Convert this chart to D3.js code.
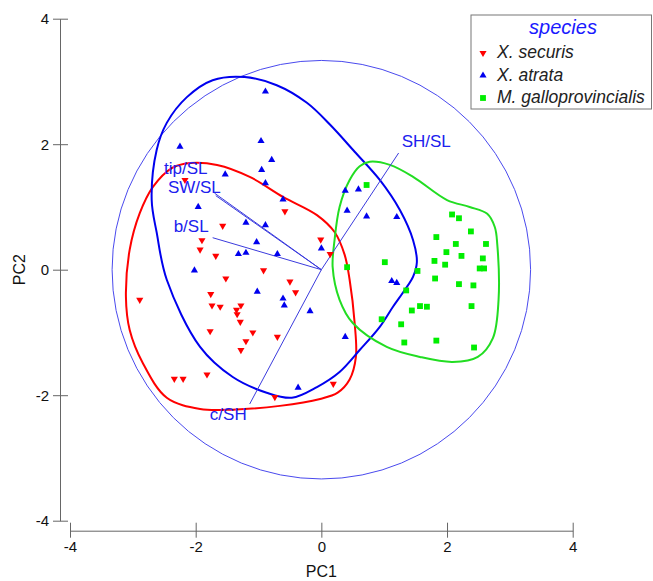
<!DOCTYPE html>
<html>
<head>
<meta charset="utf-8">
<script src="https://cdn.jsdelivr.net/npm/d3@7"></script>
<style>
  body { margin: 0; background: #fff; }
  text { font-family: "Liberation Sans", Arial, sans-serif; }
</style>
</head>
<body>
<div id="chart"></div>
<script>
// scores PC1/PC2 per species
const securis = [
  [-2.17, 1.43], [-0.58, 0.93], [-1.57, 0.70], [-1.90, 0.47], [-1.93, 0.32],
  [-1.68, 0.22], [-0.01, 0.48], [0.14, 0.25], [-0.92, -0.01], [-1.52, -0.14],
  [-0.50, -0.19], [-0.41, -0.36], [-1.76, -0.39], [-2.89, -0.48], [-1.74, -0.57],
  [-1.61, -0.59], [-1.28, -0.57], [-1.35, -0.64], [-1.34, -0.71], [-1.29, -0.83],
  [-1.77, -0.98], [-1.09, -1.00], [-0.70, -1.07], [-1.20, -1.14], [-1.28, -1.28],
  [-2.34, -1.74], [-2.20, -1.74], [-1.82, -1.67], [0.19, -1.82], [-0.74, -2.03]
];
const atrata = [
  [-0.89, 2.84], [-2.25, 1.96], [-0.96, 2.05], [-0.79, 1.75], [-0.95, 1.59],
  [-1.53, 1.52], [-0.89, 1.38], [-0.61, 1.12], [-1.96, 1.00], [-1.20, 0.75],
  [-0.89, 0.71], [-1.03, 0.44], [0.00, 0.34], [-1.32, 0.25], [-1.20, 0.27],
  [-0.70, 0.25], [-2.02, -0.01], [0.38, 1.26], [0.59, 1.28], [0.41, 0.94],
  [0.72, 0.85], [1.20, 0.84], [1.12, -0.18], [1.20, -0.21], [-1.02, -0.35],
  [-0.61, -0.46], [-0.59, -0.57], [-0.18, -0.66], [0.38, -1.07], [-0.37, -1.88]
];
const gallo = [
  [0.72, 1.35], [2.08, 0.88], [2.19, 0.82], [2.38, 0.61], [1.83, 0.52],
  [2.14, 0.41], [2.62, 0.41], [1.99, 0.28], [2.23, 0.22], [2.57, 0.18],
  [1.80, 0.14], [1.97, 0.08], [2.52, 0.02], [2.59, 0.02], [0.41, 0.04],
  [1.01, 0.12], [1.53, -0.02], [1.81, -0.14], [2.19, -0.23], [2.42, -0.25],
  [1.35, -0.33], [1.57, -0.58], [1.68, -0.59], [1.44, -0.65], [2.39, -0.58],
  [0.96, -0.79], [1.27, -0.87], [1.32, -1.16], [1.83, -1.13], [2.43, -1.24]
];

// smoothed group outlines
const securisHull = [
  [-2.09, 1.70], [-1.66, 1.67], [-1.14, 1.48], [-0.61, 1.16], [-0.07, 0.87],
  [0.21, 0.60], [0.37, 0.24], [0.45, -0.16], [0.53, -0.85], [0.55, -1.39],
  [0.45, -1.75], [0.26, -1.96], [-0.02, -2.06], [-0.66, -2.17], [-1.41, -2.23],
  [-1.93, -2.22], [-2.46, -2.04], [-2.84, -1.49], [-3.05, -0.96], [-3.11, -0.43],
  [-3.05, 0.32], [-2.89, 0.90], [-2.68, 1.32], [-2.38, 1.62]
];
const atrataHull = [
  [-1.22, 3.07], [-0.71, 2.94], [-0.23, 2.66], [0.14, 2.31], [0.53, 1.88],
  [0.93, 1.43], [1.25, 0.95], [1.46, 0.47], [1.52, 0.12], [1.46, -0.11],
  [1.33, -0.32], [1.14, -0.59], [0.93, -0.91], [0.61, -1.28], [0.29, -1.63],
  [-0.07, -1.87], [-0.47, -2.04], [-0.87, -1.96], [-1.41, -1.71], [-1.93, -1.23],
  [-2.46, -0.16], [-2.62, 0.59], [-2.70, 1.11], [-2.62, 1.91], [-2.46, 2.34],
  [-2.14, 2.75], [-1.73, 3.02]
];
const galloHull = [
  [0.77, 1.72], [1.09, 1.67], [1.46, 1.48], [2.00, 1.11], [2.36, 1.00],
  [2.64, 0.89], [2.76, 0.68], [2.80, 0.40], [2.82, -0.48], [2.73, -1.09],
  [2.49, -1.39], [2.09, -1.47], [1.57, -1.39], [1.04, -1.23], [0.50, -0.85],
  [0.29, -0.48], [0.18, 0.04], [0.21, 0.47], [0.29, 1.00], [0.45, 1.43],
  [0.61, 1.65]
];

// variable loadings
const loadNames = ["SH/SL", "c/SH", "b/SL", "tip/SL", "SW/SL"];
const loadX = [1.23, -1.14, -1.73, -1.70, -1.68];
const loadY = [1.86, -2.14, 0.51, 1.22, 1.18];
const circleRadius = 3.33;

const ticks = [-4, -2, 0, 2, 4];
const speciesNames = ["X. securis", "X. atrata", "M. galloprovincialis"];

// dimensions
const W = 653, H = 581;
const x = d3.scaleLinear().domain([-4, 4]).range([70, 572.7]);
const y = d3.scaleLinear().domain([-4, 4]).range([520.7, 18.7]);

const colors = { red: "#ff0000", blue: "#0000ee", green: "#00ee00" };

const svg = d3.select("#chart").append("svg")
    .attr("width", W).attr("height", H);

// eixos
const yAxis = svg.append("g")
    .attr("transform", "translate(60,0)")
    .call(d3.axisLeft(y).tickValues(ticks).tickSize(7).tickSizeOuter(0).tickFormat(d => String(d)));
const xAxis = svg.append("g")
    .attr("transform", "translate(0,530.7)")
    .call(d3.axisBottom(x).tickValues(ticks).tickSize(7).tickSizeOuter(0).tickFormat(d => String(d)));

yAxis.selectAll(".tick line").attr("x1", 8).attr("x2", -7);
xAxis.selectAll(".tick line").attr("y1", -8).attr("y2", 7);
[yAxis, xAxis].forEach(a => {
    a.select(".domain").attr("stroke", "#666");
    a.selectAll(".tick line").attr("stroke", "#666");
    a.selectAll(".tick text")
        .style("font-size", "15px")
        .style("font-family", "'Liberation Sans', Arial, sans-serif")
        .attr("fill", "#111");
});
yAxis.selectAll(".tick text").attr("x", -11);
xAxis.selectAll(".tick text").attr("y", 11);

svg.append("text")
    .attr("x", x(0)).attr("y", 577)
    .attr("text-anchor", "middle")
    .style("font-size", "16px").attr("fill", "#111")
    .text("PC1");
svg.append("text")
    .attr("transform", `translate(25,${y(0)}) rotate(-90)`)
    .attr("text-anchor", "middle")
    .style("font-size", "16px").attr("fill", "#111")
    .text("PC2");

// cercle de correlacio
svg.append("circle")
    .attr("cx", x(0)).attr("cy", y(0))
    .attr("r", x(circleRadius) - x(0))
    .attr("fill", "none").attr("stroke", "#4a4aee").attr("stroke-width", 1);

// contorns
const outline = d3.line()
    .x(d => x(d[0])).y(d => y(d[1]))
    .curve(d3.curveCatmullRomClosed.alpha(0.5));

[[securisHull, colors.red], [atrataHull, colors.blue], [galloHull, "#22dd22"]].forEach(([pts, c]) => {
    svg.append("path")
        .attr("d", outline(pts))
        .attr("fill", "none")
        .attr("stroke", c)
        .attr("stroke-width", 2);
});

// loadings
const labelOffsets = [[3, -6, "start"], [-3, 16, "end"], [-4, -6, "end"], [-7, -19, "end"], [5, -3, "end"]];
loadNames.forEach((name, i) => {
    svg.append("line")
        .attr("x1", x(0)).attr("y1", y(0))
        .attr("x2", x(loadX[i])).attr("y2", y(loadY[i]))
        .attr("stroke", "#3b3bdd").attr("stroke-width", 1);
});

// punts
const tri = d3.symbol().type(d3.symbolTriangle).size(22);
const sq = d3.symbol().type(d3.symbolSquare).size(34);

svg.selectAll(".pt-securis")
    .data(securis).enter().append("path")
    .attr("class", "pt-securis")
    .attr("d", tri)
    .attr("transform", d => `translate(${x(d[0])},${y(d[1])}) rotate(180)`)
    .attr("fill", colors.red);

svg.selectAll(".pt-atrata")
    .data(atrata).enter().append("path")
    .attr("class", "pt-atrata")
    .attr("d", tri)
    .attr("transform", d => `translate(${x(d[0])},${y(d[1])})`)
    .attr("fill", colors.blue);

svg.selectAll(".pt-gallo")
    .data(gallo).enter().append("path")
    .attr("class", "pt-gallo")
    .attr("d", sq)
    .attr("transform", d => `translate(${x(d[0])},${y(d[1])})`)
    .attr("fill", colors.green);

// etiquetes loadings
loadNames.forEach((name, i) => {
    const o = labelOffsets[i];
    svg.append("text")
        .attr("x", x(loadX[i]) + o[0]).attr("y", y(loadY[i]) + o[1])
        .attr("text-anchor", o[2])
        .style("font-size", "17px")
        .attr("fill", "#2020ee")
        .text(name);
});

// llegenda
const legend = svg.append("g");
legend.append("rect")
    .attr("x", 471).attr("y", 15)
    .attr("width", 180.5).attr("height", 94)
    .attr("fill", "#fff").attr("stroke", "#777").attr("stroke-width", 1);
legend.append("text")
    .attr("x", 563).attr("y", 34)
    .attr("text-anchor", "middle")
    .style("font-size", "20px").style("font-style", "italic")
    .attr("fill", "#1a1aff")
    .text("species");

const legendSym = [
    [tri, colors.red, 180],
    [tri, colors.blue, 0],
    [sq, colors.green, 0]
];
speciesNames.forEach((name, i) => {
    const yy = 58 + i * 22.5;
    legend.append("path")
        .attr("d", legendSym[i][0])
        .attr("transform", `translate(483,${yy - 5}) rotate(${legendSym[i][2]})`)
        .attr("fill", legendSym[i][1]);
    legend.append("text")
        .attr("x", 497).attr("y", yy)
        .style("font-size", "17.5px").style("font-style", "italic")
        .attr("fill", "#222")
        .text(name);
});
</script>
</body>
</html>
